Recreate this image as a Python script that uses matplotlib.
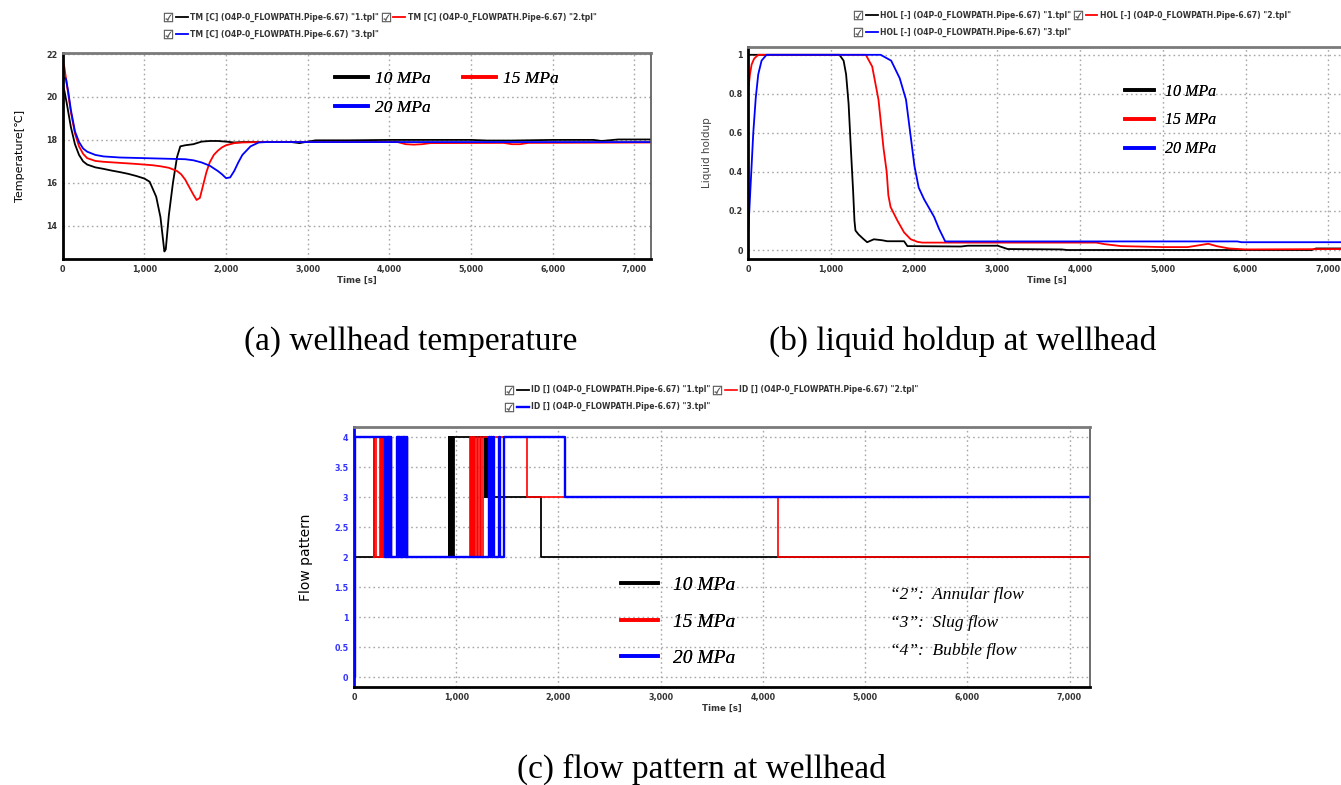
import numpy as np
import matplotlib
matplotlib.use("Agg")
from matplotlib import pyplot as plt
from matplotlib.lines import Line2D
from matplotlib.legend_handler import HandlerTuple

plt.rcParams['font.family'] = ['DejaVu Sans']
plt.rcParams['axes.linewidth'] = 1.5

# ---- data -------------------------------------------------------------
labels_mpa = ['10 MPa', '15 MPa', '20 MPa']
colors = ['#000000', '#ff0000', '#0000ff']
files = ['"1.tpl"', '"2.tpl"', '"3.tpl"']

# (a) wellhead temperature [C]
temp_t_10 = [0, 20, 50, 100, 150, 200, 250, 300, 400, 500, 600, 700, 800, 900, 1000, 1065,
             1145, 1197, 1230, 1245, 1262, 1300, 1350, 1400, 1440, 1500, 1600, 1700, 1800,
             1900, 2000, 2100, 2200, 2500, 2800, 2900, 3000, 3100, 3500, 4000, 4500, 5000,
             5200, 5500, 6000, 6500, 6600, 6800, 7200]
temp_v_10 = [20.5, 20.3, 19.7, 18.6, 17.8, 17.3, 17.0, 16.85, 16.72, 16.65, 16.57, 16.5, 16.42,
             16.32, 16.2, 16.05, 15.35, 14.4, 13.3, 12.8, 12.9, 14.5, 16.0, 17.2, 17.7, 17.75,
             17.8, 17.92, 17.95, 17.95, 17.92, 17.88, 17.9, 17.9, 17.9, 17.85, 17.92, 17.98,
             17.98, 18.0, 18.0, 18.0, 17.97, 17.97, 18.0, 18.0, 17.95, 18.02, 18.02]
temp_t_15 = [0, 20, 50, 100, 150, 200, 250, 300, 400, 500, 700, 900, 1000, 1100, 1200, 1300,
             1400, 1450, 1500, 1550, 1600, 1640, 1680, 1720, 1760, 1800, 1850, 1900, 1950,
             2000, 2100, 2200, 2400, 3000, 4100, 4200, 4300, 4400, 4500, 5400, 5500, 5600,
             5700, 7200]
temp_v_15 = [21.7, 21.4, 20.6, 19.3, 18.3, 17.7, 17.35, 17.15, 17.02, 16.98, 16.93, 16.88,
             16.85, 16.82, 16.77, 16.7, 16.55, 16.4, 16.15, 15.8, 15.45, 15.2, 15.3, 15.9,
             16.5, 16.95, 17.3, 17.5, 17.65, 17.75, 17.85, 17.88, 17.9, 17.9, 17.9, 17.8,
             17.78, 17.8, 17.85, 17.86, 17.8, 17.8, 17.86, 17.88]
temp_t_20 = [0, 20, 40, 70, 100, 150, 200, 250, 300, 400, 500, 700, 1000, 1300, 1500, 1600,
             1700, 1800, 1900, 1950, 2000, 2050, 2100, 2150, 2200, 2300, 2400, 2500, 7200]
temp_v_20 = [20.7, 20.9, 20.85, 20.2, 19.4, 18.4, 17.9, 17.6, 17.45, 17.3, 17.23, 17.18, 17.15,
             17.12, 17.1, 17.05, 16.95, 16.8, 16.55, 16.4, 16.22, 16.25, 16.55, 16.95, 17.3,
             17.7, 17.88, 17.9, 17.9]

# (b) liquid holdup [-]
hol_t_10 = [0, 1100, 1150, 1180, 1210, 1240, 1265, 1281, 1293, 1330, 1380, 1434, 1515, 1616,
            1677, 1880, 1920, 1960, 2565, 2650, 3010, 3130, 3780, 3850, 6800, 6850, 7200]
hol_v_10 = [1, 1, 0.97, 0.9, 0.75, 0.5, 0.3, 0.15, 0.1, 0.08, 0.06, 0.04, 0.055, 0.05, 0.045,
            0.045, 0.02, 0.02, 0.018, 0.022, 0.022, 0.005, 0.003, 0.0, 0.0, 0.008, 0.008]
hol_t_15 = [0, 20, 40, 70, 120, 1418, 1495, 1571, 1632, 1670, 1690, 1717, 1800, 1880, 1960,
            2040, 2100, 4200, 4300, 4500, 5000, 5300, 5450, 5550, 5650, 5800, 6000, 7200]
hol_v_15 = [0.82, 0.9, 0.95, 0.98, 1.0, 1.0, 0.94, 0.77, 0.52, 0.4, 0.28, 0.22, 0.15, 0.09,
            0.055, 0.042, 0.038, 0.038, 0.03, 0.02, 0.015, 0.015, 0.025, 0.032, 0.02, 0.008,
            0.003, 0.005]
hol_t_20 = [0, 30, 60, 90, 120, 160, 220, 1597, 1724, 1827, 1903, 1954, 2005, 2056, 2121,
            2242, 2300, 2376, 5900, 5950, 7200]
hol_v_20 = [0.1, 0.35, 0.6, 0.78, 0.9, 0.97, 1.0, 1.0, 0.97, 0.88, 0.77, 0.6, 0.43, 0.32,
            0.26, 0.17, 0.11, 0.044, 0.044, 0.04, 0.04]

# (c) flow pattern ID (step changes: time, new value)
id_t_10 = [0, 280, 288, 293, 298, 925, 930, 935, 940, 945, 950, 955, 960, 965, 970, 975,
           1280, 1286, 1292, 1298, 1304, 1830, 7200]
id_v_10 = [2, 4, 2, 4, 2, 4, 2, 4, 2, 4, 2, 4, 2, 4, 2, 4,
           3, 4, 3, 4, 3, 2, 2]
id_t_15 = [0, 196, 200, 212, 255, 262, 270, 278, 285, 292, 1135, 1142, 1150, 1160, 1170,
           1185, 1200, 1215, 1230, 1245, 1258, 1690, 4150, 7200]
id_v_15 = [4, 2, 4, 2, 4, 2, 4, 2, 4, 2, 4, 2, 4, 2, 4,
           2, 4, 2, 4, 2, 4, 3, 2, 2]
id_t_20 = [0, 10,
           304, 310, 316, 322, 328, 334, 340, 346, 352, 358, 364,
           420, 426, 432, 438, 444, 450, 456, 462, 468, 474, 480, 486, 492, 498, 504, 510,
           516, 523,
           1320, 1330, 1340, 1350, 1360, 1368, 1418, 1424, 1465, 2060, 7200]
id_v_20 = [0, 4,
           2, 4, 2, 4, 2, 4, 2, 4, 2, 4, 2,
           4, 2, 4, 2, 4, 2, 4, 2, 4, 2, 4, 2, 4, 2, 4, 2,
           4, 2,
           4, 2, 4, 2, 4, 2, 4, 2, 4, 3, 3]

pattern_notes = ['\u201c2\u201d:  Annular flow', '\u201c3\u201d:  Slug flow',
                 '\u201c4\u201d:  Bubble flow']

x_ticks = [0, 1000, 2000, 3000, 4000, 5000, 6000, 7000]

# ---- figure -----------------------------------------------------------
W, H = 1341, 785
fig = plt.figure(figsize=(W / 100, H / 100), dpi=100)


def px_axes(x0, y_top, x1, y_bot):
    return fig.add_axes([x0 / W, 1 - y_bot / H, (x1 - x0) / W, (y_bot - y_top) / H])


ax_a = px_axes(62.7, 53, 650.7, 259)
ax_b = px_axes(748.3, 47, 1345, 259)
ax_c = px_axes(354, 427, 1090, 687)

tick_font = dict(fontsize=5.8, fontweight='bold')


def style_axes(ax, left_color='black'):
    ax.set_xlim(0, 7200)
    ax.set_xticks(x_ticks)
    ax.set_xticklabels([f"{v:,}" for v in x_ticks], **tick_font, color='#333333')
    ax.tick_params(length=0, pad=4)
    ax.grid(True, color='#a8a8a8', linestyle=(0, (1.2, 2.2)), linewidth=1.0)
    ax.spines['left'].set_color(left_color)
    ax.spines['left'].set_linewidth(2)
    ax.spines['bottom'].set_color('black')
    ax.spines['bottom'].set_linewidth(2)
    ax.spines['top'].set_color('#7a7a7a')
    ax.spines['top'].set_linewidth(2)
    ax.spines['right'].set_color('#555555')
    ax.spines['right'].set_linewidth(1.2)
    ax.set_xlabel('Time [s]', fontsize=6.2, fontweight='bold', labelpad=2, color='#333333')


def header_legend(ax, lines, prefix, anchor):
    box = Line2D([], [], linestyle='none', marker='$\u2611$', markersize=6.5,
                 color='#555555', markeredgewidth=0.3)
    handles = [(box, ln) for ln in lines]
    labels = [f'{prefix} (O4P-0_FLOWPATH.Pipe-6.67) {f}' for f in files]
    order = [0, 2, 1]
    leg = ax.legend([handles[i] for i in order], [labels[i] for i in order],
                    handler_map={tuple: HandlerTuple(ndivide=None, pad=0.2)},
                    ncol=2, loc='lower left', bbox_to_anchor=anchor, frameon=False,
                    borderpad=0, handlelength=3.3, handletextpad=0.35, columnspacing=0.1,
                    labelspacing=1.05, prop=dict(size=5.5, weight='bold'))
    for txt in leg.get_texts():
        txt.set_color('#333333')
    ax.add_artist(leg)
    return leg


def series_legend(ax, ncol, order, anchor, size, hlen, lspace, cspace=1.5, tpad=0.4):
    hs = [Line2D([], [], color=colors[i], lw=2.6) for i in order]
    leg = ax.legend(hs, [labels_mpa[i] for i in order], ncol=ncol, loc='upper left',
                    bbox_to_anchor=anchor, frameon=False, borderpad=0, handlelength=hlen,
                    handletextpad=tpad, labelspacing=lspace, columnspacing=cspace,
                    prop=dict(family='Liberation Serif', style='italic', size=size))
    ax.add_artist(leg)


# (a)
la = []
for t, v, c in zip([temp_t_10, temp_t_15, temp_t_20], [temp_v_10, temp_v_15, temp_v_20], colors):
    la.append(ax_a.plot(t, v, color=c, lw=1.3)[0])
style_axes(ax_a)
ax_a.set_ylim(12.45, 22.05)
ax_a.set_yticks([14, 16, 18, 20, 22])
ax_a.set_yticklabels(['14', '16', '18', '20', '22'], **tick_font, color='#333333')
ax_a.set_ylabel('Temperature[\u2103]', fontsize=8, labelpad=15)
header_legend(ax_a, la, 'TM [C]', (0.163, 1.05))
series_legend(ax_a, 2, [0, 2, 1], (0.448, 0.955), 12.5, 1.9, 0.75, 1.9)

# (b)
lb = []
for t, v, c in zip([hol_t_10, hol_t_15, hol_t_20], [hol_v_10, hol_v_15, hol_v_20], colors):
    lb.append(ax_b.plot(t, v, color=c, lw=1.3)[0])
style_axes(ax_b)
ax_b.set_ylim(-0.046, 1.04)
yb = [0, 0.2, 0.4, 0.6, 0.8, 1]
ax_b.set_yticks(yb)
ax_b.set_yticklabels(['0', '0.2', '0.4', '0.6', '0.8', '1'], **tick_font, color='#333333')
ax_b.set_ylabel('Liquid holdup', fontsize=7.5, labelpad=12, color='#444444')
header_legend(ax_b, lb, 'HOL [-]', (0.168, 1.03))
series_legend(ax_b, 1, [0, 1, 2], (0.618, 0.865), 11.5, 1.8, 0.8, tpad=0.7)

# (c)
lc = []
for t, v, c, w in zip([id_t_10, id_t_15, id_t_20], [id_v_10, id_v_15, id_v_20], colors,
                      [1.3, 1.2, 1.7]):
    lc.append(ax_c.plot(t, v, color=c, lw=w, drawstyle='steps-post')[0])
style_axes(ax_c, left_color='#0000ff')
ax_c.set_ylim(-0.16, 4.17)
yc = [0, 0.5, 1, 1.5, 2, 2.5, 3, 3.5, 4]
ax_c.set_yticks(yc)
ax_c.set_yticklabels([f'{v:g}' for v in yc], **tick_font, color='#3333ff')
ax_c.set_ylabel('Flow pattern', fontsize=10, labelpad=15)
header_legend(ax_c, lc, 'ID []', (0.198, 1.045))
series_legend(ax_c, 1, [0, 1, 2], (0.35, 0.462), 14, 1.9, 0.97, tpad=0.75)
for i, note in enumerate(pattern_notes):
    ax_c.text(0.728, 0.355 - i * 0.108, note, transform=ax_c.transAxes, va='center',
              ha='left', family='Liberation Serif', style='italic', fontsize=12.5)

# captions
cap = dict(family='Liberation Serif', fontsize=24, ha='center', va='center')
fig.text(411 / W, 1 - 341 / H, '(a) wellhead temperature', **cap)
fig.text(963 / W, 1 - 341 / H, '(b) liquid holdup at wellhead', **cap)
fig.text(701 / W, 1 - 769 / H, '(c) flow pattern at wellhead', **cap)

fig.savefig('out.png', dpi=100)
